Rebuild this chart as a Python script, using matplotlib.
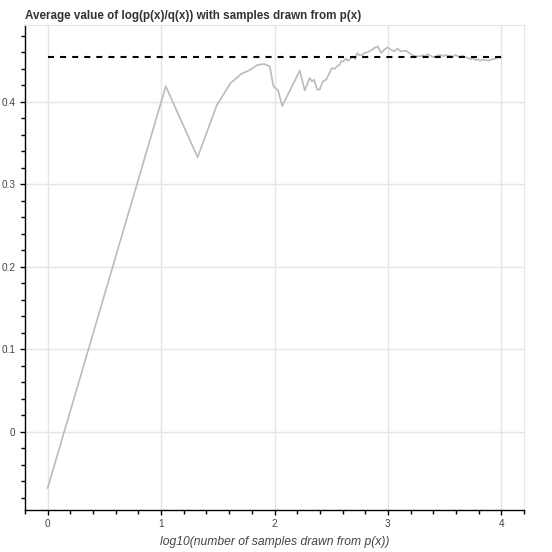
import numpy as np
import matplotlib
matplotlib.use('Agg')
import matplotlib.pyplot as plt
from matplotlib.ticker import MultipleLocator

# log10(n) vs running mean of log(p/q)
log_n = [0.0, 1.041, 1.322, 1.491, 1.613, 1.708, 1.785, 1.851, 1.908, 1.959,
         1.99, 2.032, 2.068, 2.223, 2.267, 2.31, 2.33, 2.348, 2.377, 2.398,
         2.427, 2.456, 2.486, 2.506, 2.53, 2.553, 2.573, 2.588, 2.603, 2.632,
         2.647, 2.676, 2.697, 2.71, 2.728, 2.749, 2.778, 2.79, 2.807, 2.837,
         2.866, 2.88, 2.91, 2.94, 2.968, 2.997, 3.026, 3.056, 3.085, 3.114,
         3.158, 3.188, 3.217, 3.246, 3.29, 3.304, 3.326, 3.348, 3.377, 3.4,
         3.42, 3.44, 3.465, 3.49, 3.51, 3.53, 3.553, 3.575, 3.596, 3.62,
         3.64, 3.66, 3.684, 3.705, 3.728, 3.75, 3.77, 3.795, 3.816, 3.84,
         3.86, 3.89, 3.918, 3.947, 3.977, 4.0]
avg_val = [-0.068, 0.419, 0.333, 0.396, 0.423, 0.434, 0.439, 0.445, 0.446, 0.443,
           0.419, 0.414, 0.395, 0.438, 0.414, 0.429, 0.425, 0.427, 0.415, 0.415,
           0.425, 0.427, 0.4355, 0.441, 0.44, 0.4436, 0.4448, 0.4493, 0.4488, 0.4525,
           0.45, 0.4533, 0.455, 0.4517, 0.459, 0.4566, 0.457, 0.4594, 0.4598, 0.4614,
           0.4638, 0.4655, 0.4675, 0.4594, 0.4634, 0.4663, 0.4634, 0.4614, 0.4646, 0.4614,
           0.4622, 0.4594, 0.4566, 0.4554, 0.4554, 0.457, 0.4552, 0.458, 0.4558, 0.4545,
           0.455, 0.4565, 0.457, 0.4555, 0.457, 0.4562, 0.4558, 0.4548, 0.457, 0.4553,
           0.455, 0.456, 0.4542, 0.4535, 0.4517, 0.453, 0.4509, 0.4515, 0.45, 0.4512,
           0.4509, 0.45, 0.4517, 0.4525, 0.4542, 0.4535]
true_kl = 0.4545

plt.rcParams['font.family'] = ['Liberation Sans', 'DejaVu Sans']

fig = plt.figure(figsize=(5.52, 5.52), dpi=100)
ax = fig.add_axes([25/552, 1 - 510/552, 499/552, 485/552])

ax.plot(log_n, avg_val, color='#bbbbbb', lw=1.2, zorder=3)
ax.plot([0, 4], [true_kl, true_kl], color='black', lw=1.5, ls=(0, (2.9, 2.9)), zorder=4)

ax.set_xlim(-0.2, 4.2)
ax.set_ylim(-0.0947, 0.4933)

ax.xaxis.set_minor_locator(MultipleLocator(0.2))
ax.yaxis.set_minor_locator(MultipleLocator(0.02))
ax.set_xticks([0, 1, 2, 3, 4])
ax.set_xticklabels(['0', '1', '2', '3', '4'])
ax.set_yticks([0, 0.1, 0.2, 0.3, 0.4])
ax.set_yticklabels(['0', '0.1', '0.2', '0.3', '0.4'])

ax.grid(True, which='major', color='#e5e5e5', lw=1, zorder=0)
for s in ['top', 'right']:
    ax.spines[s].set_color('#e5e5e5')
for s in ['left', 'bottom']:
    ax.spines[s].set_color('black')
    ax.spines[s].set_linewidth(1)
ax.tick_params(which='major', direction='out', length=3.8, width=1, labelsize=7.2,
               labelcolor='#444444', pad=3.0)
ax.tick_params(which='minor', direction='out', length=2.8, width=1)

ax.set_xlabel('log10(number of samples drawn from p(x))', fontsize=8.7,
              style='italic', color='#444444', labelpad=5)
fig.text(25/552, 1 - 15.5/552, 'Average value of log(p(x)/q(x)) with samples drawn from p(x)',
         fontsize=8.4, fontweight='bold', color='#333333', va='center', ha='left')

fig.savefig('out.png', dpi=100)
